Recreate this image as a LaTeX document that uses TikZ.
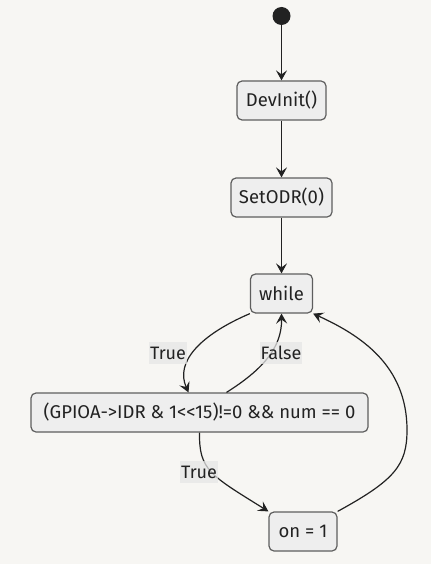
\documentclass[tikz,border=0pt]{standalone}
\usepackage{fontspec}
\setmainfont{Fira Sans}
\usetikzlibrary{arrows.meta,calc}
\definecolor{Paper}{HTML}{F7F6F3}
\definecolor{StateFill}{HTML}{EEEEEE}
\definecolor{StateEdge}{HTML}{5E5E5E}
\definecolor{LabelBack}{HTML}{E6E6E6}
\definecolor{Wire}{HTML}{222222}
\tikzset{state/.style={rectangle,rounded corners=5pt,draw=StateEdge,line width=1.2pt,fill=StateFill,minimum height=39pt,inner sep=0pt,text=Wire,font=\fontsize{18.5}{22}\selectfont},startdot/.style={circle,fill=Wire,minimum size=18pt,inner sep=0pt},flow/.style={draw=Wire,line width=1.2pt,-{Stealth[length=10pt,width=11pt,inset=4pt]}},guard/.style={fill=LabelBack,fill opacity=0.75,text opacity=1,text=Wire,inner sep=1pt,minimum height=22pt,font=\fontsize{18}{22}\selectfont}}
\begin{document}
\begin{tikzpicture}[x=1pt,y=-1pt]
\fill[Paper] (0,0) rectangle (431,564);
\node[startdot] (S0) at (281.5,16) {};
\node[state,minimum width=89pt] (Init) at (281.5,100.5) {DevInit()};
\node[state,minimum width=101pt] (Odr) at (281.5,197.5) {SetODR(0)};
\node[state,minimum width=62pt] (Loop) at (281.5,293.5) {while};
\node[state,minimum width=337pt] (Cond) at (199.5,412.5) {(GPIOA->IDR \& 1<{}<15)!=0 \&\& num == 0};
\node[state,minimum width=68pt] (On) at (303,531.5) {on = 1};
\draw[flow] (S0) -- (Init);
\draw[flow] (Init) -- (Odr);
\draw[flow] (Odr) -- (Loop);
\draw[flow] (Loop.south west) .. controls (200,335) and (175,362) .. ($(Cond.north)+(-11,0)$);
\draw[flow] ($(Cond.north)+(27,0)$) .. controls (262,370) and (282,348) .. (Loop.south);
\draw[flow] (Cond.south) .. controls (199,470) and (210,475) .. (On.north west);
\draw[flow] (On.north east) .. controls (395,480) and (407,465) .. (407,430) .. controls (407,365) and (360,335) .. (Loop.south east);
\node[guard] (T1) at (168,353) {True};
\node[guard] (F1) at (281,353) {False};
\node[guard] (T2) at (199,472) {True};
\end{tikzpicture}
\end{document}
